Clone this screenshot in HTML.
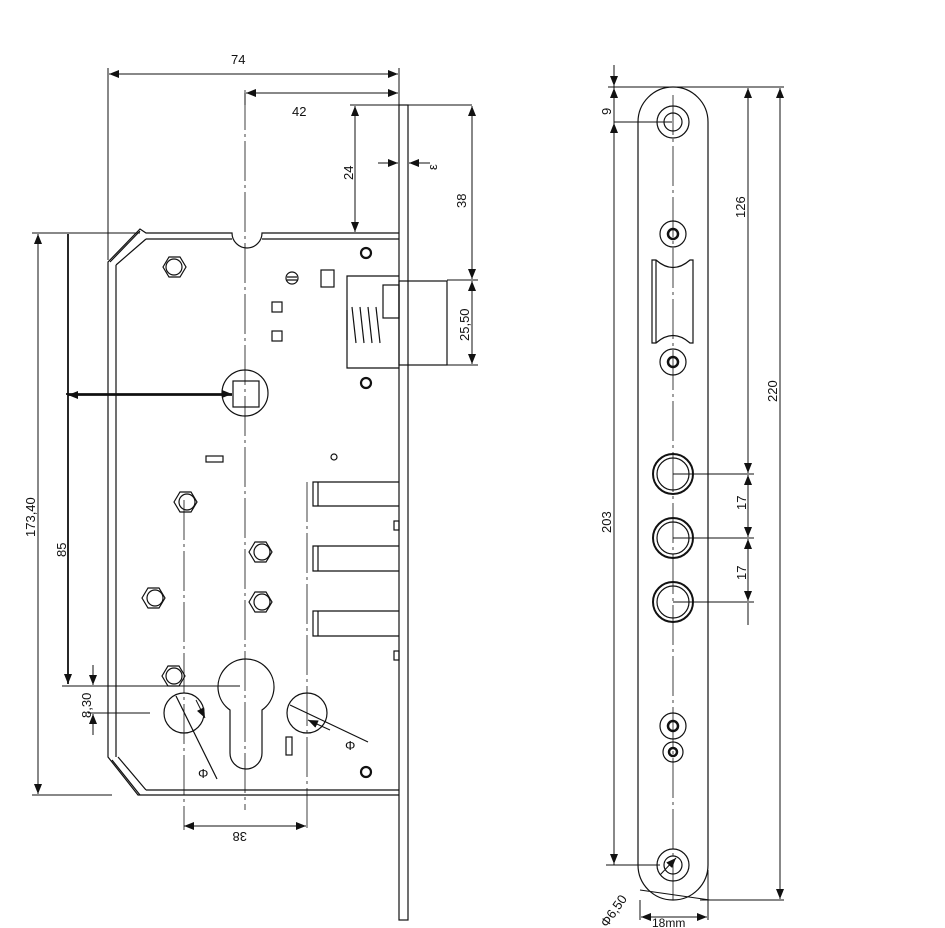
<!DOCTYPE html><html><head><style>body{margin:0;background:#fff}svg{display:block}text{font-family:"Liberation Sans",sans-serif;font-size:13px;fill:#111}</style></head><body>
<svg width="945" height="928" viewBox="0 0 945 928" xmlns="http://www.w3.org/2000/svg">
<defs><marker id="a" markerWidth="10" markerHeight="8" refX="10" refY="4" orient="auto-start-reverse" markerUnits="userSpaceOnUse"><path d="M0,0 L10,4 L0,8z" fill="#111"/></marker></defs>
<g stroke="#111" fill="none" stroke-width="1.2">
<rect x="399" y="105" width="9" height="815"/>
<path d="M399,233 H262 A13,13 0 0 1 232,233 H146 L140,229 L108,262 V757 L138,795 H399"/>
<path d="M399,239 H262 M232,239 H146 M116,265 V757 M146,790 H399" />
<path d="M140,231 L110,262 M116,265 L146,239 M112,760 L140,795 M118,757 L146,790"/>
<g stroke-width="0.8" stroke-dasharray="40,4,3,4"><path d="M245,90 V810"/><path d="M184,500 V830"/><path d="M307,482 V830"/></g>
<path d="M163,267 l6,-10 h11 l6,10 l-6,10 h-11z M174,502 l6,-10 h11 l6,10 l-6,10 h-11z M249,552 l6,-10 h11 l6,10 l-6,10 h-11z M142,598 l6,-10 h11 l6,10 l-6,10 h-11z M249,602 l6,-10 h11 l6,10 l-6,10 h-11z M162,676 l6,-10 h11 l6,10 l-6,10 h-11z"/>
<circle cx="174" cy="267" r="8"/><circle cx="187" cy="502" r="8"/><circle cx="262" cy="552" r="8"/><circle cx="155" cy="598" r="8"/><circle cx="262" cy="602" r="8"/><circle cx="174" cy="676" r="8"/>
<g stroke-width="2.2"><circle cx="366" cy="253" r="5"/><circle cx="366" cy="383" r="5"/><circle cx="366" cy="772" r="5"/></g>
<circle cx="292" cy="278" r="6"/><path d="M287,277h10M287,280h10"/><rect x="321" y="270" width="13" height="17"/>
<rect x="272" y="302" width="10" height="10"/><rect x="272" y="331" width="10" height="10"/>
<rect x="206" y="456" width="17" height="6"/><circle cx="334" cy="457" r="3"/>
<path d="M399,276 H347 V368 H399"/><rect x="383" y="285" width="16" height="33"/><rect x="399" y="281" width="48" height="84"/>
<path d="M347,310 V340 M352,307 l4,36 M360,307 l4,36 M368,307 l4,36 M376,307 l4,36"/>
<circle cx="245" cy="393" r="23"/><rect x="233" y="381" width="26" height="26"/>
<path d="M399,482 H313 V506 H399 M318,482 V506 M399,546 H313 V571 H399 M318,546 V571 M399,611 H313 V636 H399 M318,611 V636"/>
<rect x="394" y="521" width="5" height="9"/><rect x="394" y="651" width="5" height="9"/>
<path d="M230,710 A28,28 0 1 1 262,710 V753 A16,16 0 0 1 230,753 Z"/>
<circle cx="184" cy="713" r="20"/><circle cx="307" cy="713" r="20"/><rect x="286" y="737" width="6" height="18"/>
<path d="M176,696 L217,779 M290,705 L368,742"/>
</g>
<g stroke="#111" fill="none" stroke-width="1">
<path d="M108,68 V260 M399,68 V105 M245,93 V105" />
<path d="M109,74 H398" marker-start="url(#a)" marker-end="url(#a)"/>
<path d="M246,93 H398" marker-start="url(#a)" marker-end="url(#a)"/>
<path d="M350,105 H472"/>
<path d="M355,106 V232" marker-start="url(#a)" marker-end="url(#a)"/>
<path d="M472,106 V279" marker-start="url(#a)" marker-end="url(#a)"/>
<path d="M447,280 H478 M447,365 H478"/>
<path d="M472,281 V364" marker-start="url(#a)" marker-end="url(#a)"/>
<path d="M378,163 H398" marker-end="url(#a)"/><path d="M430,163 H409" marker-end="url(#a)"/>
<path d="M32,233 H140 M32,795 H112"/>
<path d="M38,234 V794" marker-start="url(#a)" marker-end="url(#a)"/>
<path d="M68,234 V684" stroke-width="1.8" marker-end="url(#a)"/>
<path d="M68,395 H232" stroke-width="1.8" marker-start="url(#a)"/><path d="M66,394 H232" stroke-width="1.8" marker-end="url(#a)"/>
<path d="M62,686 H240 M88,713 H150"/>
<path d="M93,665 V685" marker-end="url(#a)"/><path d="M93,735 V714" marker-end="url(#a)"/>
<path d="M184,826 H306" marker-start="url(#a)" marker-end="url(#a)"/>
<path d="M196,700 L205,718" marker-end="url(#a)"/><path d="M330,730 L308,720" marker-end="url(#a)"/>
</g>
<text x="231" y="64">74</text><text x="292" y="116">42</text>
<text transform="translate(353,180) rotate(-90)">24</text>
<text transform="translate(466,208) rotate(-90)">38</text>
<text transform="translate(469,341) rotate(-90)">25,50</text>
<text transform="translate(437,170) rotate(-90)">ε</text>
<text transform="translate(35,537) rotate(-90)">173,40</text>
<text transform="translate(66,557) rotate(-90)">85</text>
<text transform="translate(91,718) rotate(-90)">8,30</text>
<text transform="translate(247,832) rotate(180)">38</text>
<text x="198" y="778">Φ</text><text x="345" y="750">Φ</text>
<g stroke="#111" fill="none" stroke-width="1.2">
<path d="M638,122 A35,35 0 0 1 708,122 V865 A35,35 0 0 1 638,865 Z"/>
<path d="M673,95 V900" stroke-width="0.8" stroke-dasharray="40,4,3,4"/>
<circle cx="673" cy="122" r="16"/><circle cx="673" cy="122" r="9"/>
<circle cx="673" cy="865" r="16"/><circle cx="673" cy="865" r="9"/>
<circle cx="673" cy="234" r="13"/><circle cx="673" cy="234" r="5" stroke-width="2.5"/>
<circle cx="673" cy="362" r="13"/><circle cx="673" cy="362" r="5" stroke-width="2.5"/>
<circle cx="673" cy="726" r="13"/><circle cx="673" cy="726" r="5" stroke-width="2.5"/>
<circle cx="673" cy="752" r="10"/><circle cx="673" cy="752" r="4" stroke-width="2.5"/>
<path d="M652,260 H656 Q673,275 690,260 H693 V343 H690 Q673,328 656,343 H652 Z M656,260 V343"/>
<g stroke-width="2"><circle cx="673" cy="474" r="20"/><circle cx="673" cy="538" r="20"/><circle cx="673" cy="602" r="20"/></g>
<circle cx="673" cy="474" r="16"/><circle cx="673" cy="538" r="16"/><circle cx="673" cy="602" r="16"/>
</g>
<g stroke="#111" fill="none" stroke-width="1">
<path d="M614,65 V865 M608,87 H784 M606,865 H660 M614,122 H672 M700,900 H784 M708,870 V920 M640,900 V920"/>
<path d="M614,65 V86" marker-end="url(#a)"/><path d="M614,145 V123" marker-end="url(#a)"/>
<path d="M614,88 V864" marker-start="url(#a)" marker-end="url(#a)"/>
<path d="M748,88 V473" marker-start="url(#a)" marker-end="url(#a)"/>
<path d="M780,88 V899" marker-start="url(#a)" marker-end="url(#a)"/>
<path d="M673,474 H754 M673,538 H754 M673,602 H754"/>
<path d="M748,475 V537" marker-start="url(#a)" marker-end="url(#a)"/>
<path d="M748,539 V601" marker-start="url(#a)" marker-end="url(#a)"/>
<path d="M748,603 V625"/>
<path d="M641,917 H707" marker-start="url(#a)" marker-end="url(#a)"/>
<path d="M640,890 L710,900" /><path d="M660,875 L676,858" marker-end="url(#a)"/>
</g>
<text transform="translate(611,115) rotate(-90)">9</text>
<text transform="translate(611,533) rotate(-90)">203</text>
<text transform="translate(745,218) rotate(-90)">126</text>
<text transform="translate(777,402) rotate(-90)">220</text>
<text transform="translate(746,510) rotate(-90)">17</text>
<text transform="translate(746,580) rotate(-90)">17</text>
<text transform="translate(607,928) rotate(-55)">Φ6,50</text>
<text x="652" y="927" style="font-size:12px">18mm</text>
</svg></body></html>
